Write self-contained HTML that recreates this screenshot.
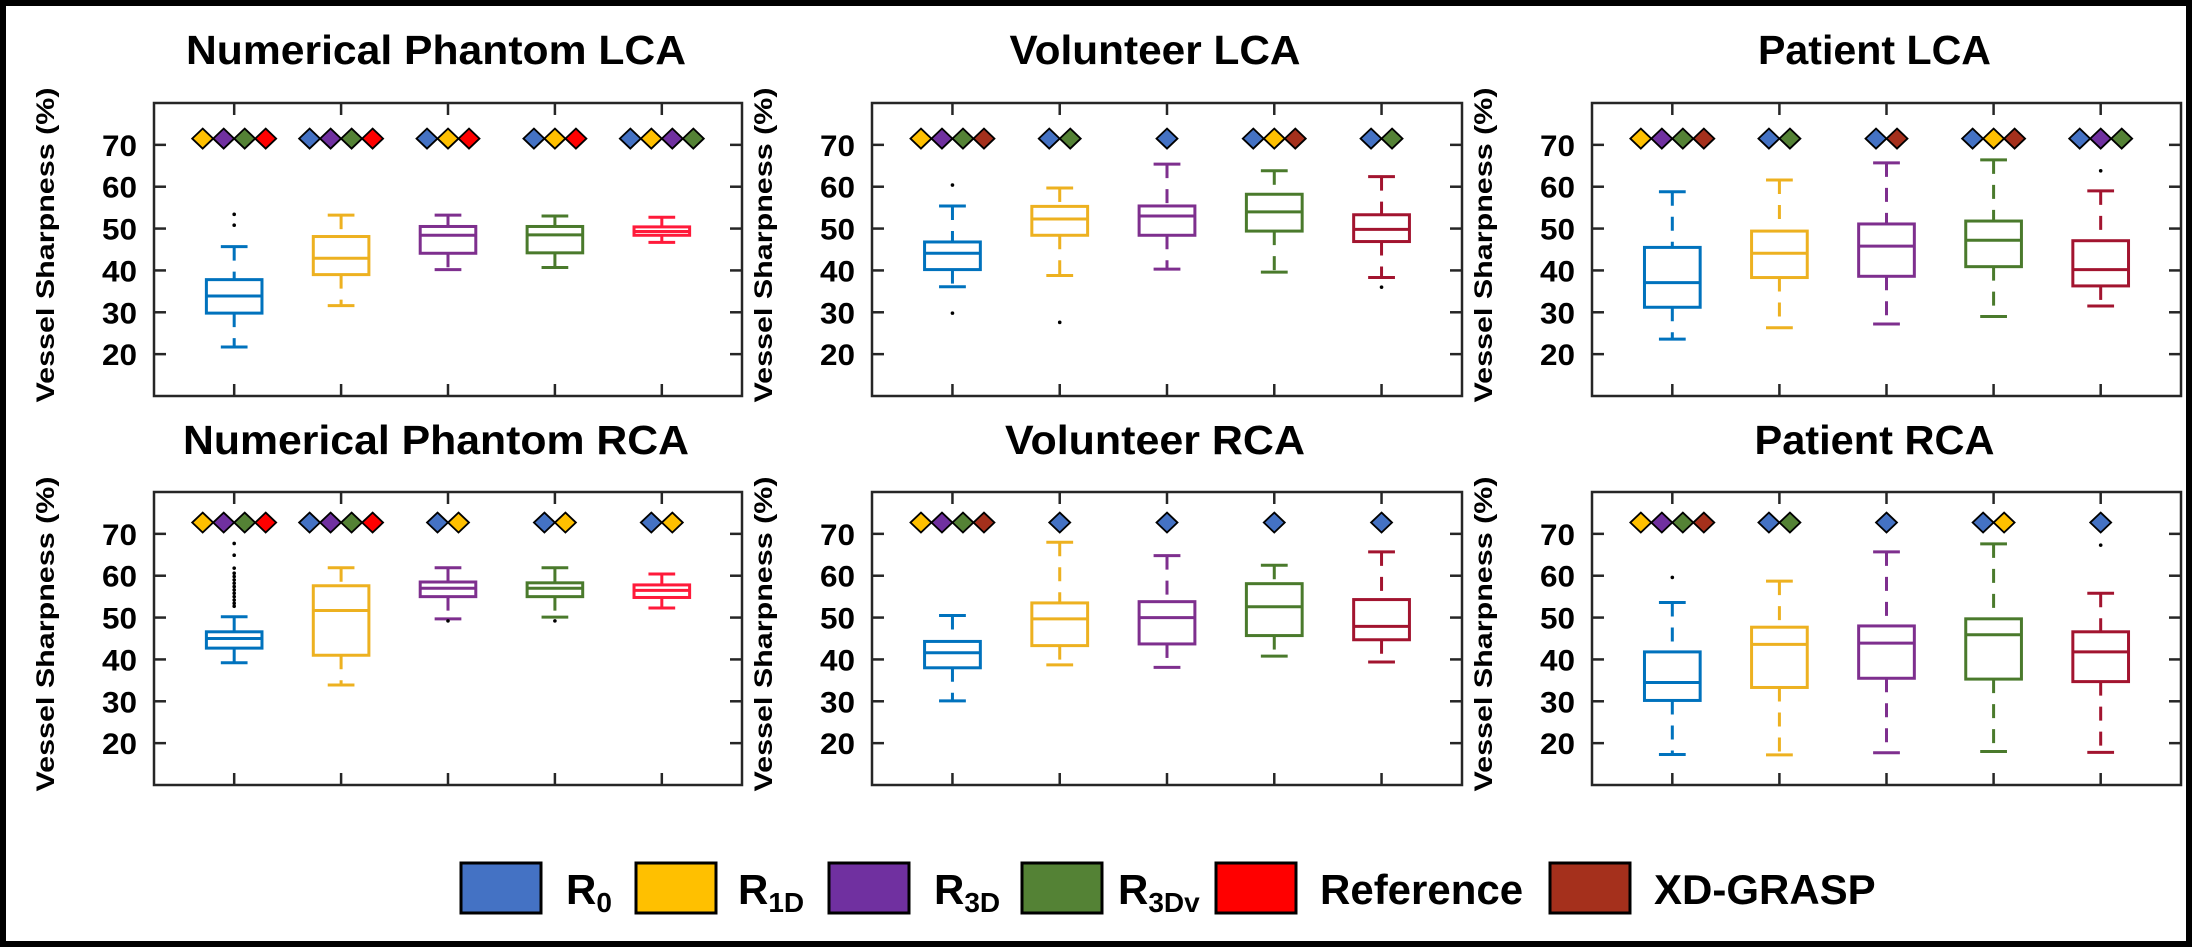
<!DOCTYPE html>
<html><head><meta charset="utf-8"><style>
html,body{margin:0;padding:0;background:#fff}
svg{display:block}
text{font-family:"Liberation Sans",sans-serif;font-weight:bold;fill:#000}
</style></head><body>
<svg id="chart" width="2192" height="947" viewBox="0 0 2192 947" xmlns="http://www.w3.org/2000/svg">
<rect x="3" y="3" width="2186" height="941" fill="#fff" stroke="#000" stroke-width="6"/>
<g id="panels"></g>
<g id="legend"></g>
</svg>
<script>
const panelTitles = ["Numerical Phantom LCA","Volunteer LCA","Patient LCA","Numerical Phantom RCA","Volunteer RCA","Patient RCA"];
const titleWidths = [500,291,233,506,300,240];
const yTicks = [20,30,40,50,60,70];
const whiskerHigh = [[45.7,53.2,53.2,53.0,52.7],[55.4,59.7,65.4,63.8,62.4],[58.8,61.6,65.7,66.4,59.0],[50.2,61.9,61.9,61.9,60.4],[50.5,68.0,64.8,62.5,65.7],[53.6,58.7,65.7,67.6,55.8]];
const q3 = [[37.8,48.1,50.5,50.5,50.4],[46.8,55.3,55.4,58.2,53.3],[45.5,49.4,51.1,51.8,47.1],[46.6,57.6,58.5,58.3,57.8],[44.3,53.5,53.8,58.1,54.3],[41.8,47.7,48.0,49.7,46.6]];
const median = [[33.9,42.9,48.4,48.5,49.3],[44.1,52.3,53.0,54.0,49.8],[37.1,44.1,45.8,47.2,40.2],[45.0,51.7,57.0,57.0,56.5],[41.6,49.7,50.0,52.6,47.9],[34.5,43.6,43.9,45.9,41.8]];
const q1 = [[29.8,39.0,44.1,44.2,48.4],[40.2,48.4,48.4,49.4,46.9],[31.2,38.3,38.6,40.9,36.3],[42.7,41.0,55.0,55.0,54.8],[38.0,43.3,43.7,45.7,44.7],[30.2,33.3,35.5,35.3,34.7]];
const whiskerLow = [[21.7,31.6,40.2,40.7,46.7],[36.1,38.8,40.3,39.6,38.3],[23.6,26.3,27.2,29.0,31.5],[39.2,33.9,49.7,50.1,52.3],[30.1,38.7,38.1,40.8,39.4],[17.3,17.2,17.7,18.0,17.8]];
const outliers = [[[53.4,50.8],[],[],[],[]],[[60.4,29.8],[27.6],[],[],[36.0]],[[],[],[],[],[63.8]],[[67.7,64.9,61.8,60.6,59.8,59.0,58.2,57.4,56.6,55.8,55.0,54.2,53.4,52.7],[],[49.2],[49.2],[]],[[],[],[],[],[]],[[59.6],[],[],[],[67.3]]];
const diamonds = [[["Y","P","G","R"],["B","P","G","R"],["B","Y","R"],["B","Y","R"],["B","Y","P","G"]],[["Y","P","G","X"],["B","G"],["B"],["B","Y","X"],["B","G"]],[["Y","P","G","X"],["B","G"],["B","X"],["B","Y","X"],["B","P","G"]],[["Y","P","G","R"],["B","P","G","R"],["B","Y"],["B","Y"],["B","Y"]],[["Y","P","G","X"],["B"],["B"],["B"],["B"]],[["Y","P","G","X"],["B","G"],["B"],["B","Y"],["B"]]];
const diamondLevel = [71.5,71.5,71.5,72.7,72.7,72.7];
const legendLabels = [["R","0"],["R","1D"],["R","3D"],["R","3Dv"],["Reference",""],["XD-GRASP",""]];

const dColors = {B:"#4472C4",Y:"#FFC000",P:"#7030A0",G:"#548235",R:"#FF0000",X:"#A5301C"};
const boxColorsPhantom = ["#0072BD","#EDB120","#7E2F8E","#4A7A2C","#FF1A3A"];
const boxColorsOther = ["#0072BD","#EDB120","#7E2F8E","#4A7A2C","#A2142F"];
const NS = "http://www.w3.org/2000/svg";
const root = document.getElementById("panels");
const colLeft = [154,872,1592], colW = [588,590,589], rowTop = [103,492], H = 293;

function mk(tag, attrs, parent){
  const e = document.createElementNS(NS, tag);
  for (const k in attrs) e.setAttribute(k, attrs[k]);
  parent.appendChild(e);
  return e;
}

for (let p = 0; p < 6; p++) {
  const c = p % 3, r = Math.floor(p / 3);
  const L = colLeft[c], T = rowTop[r], W = colW[c];
  const xS = v => L + (v - 0.25) / 5.5 * W;
  const yS = v => T + (80 - v) / 70 * H;
  const g = mk("g", {}, root);
  
  
  const t = mk("text", {x: L + W/2 - 12, y: r ? 454 : 64, "text-anchor": "middle", "font-size": 41, textLength: titleWidths[p], lengthAdjust: "spacingAndGlyphs"}, g);
  
  
  t.textContent = panelTitles[p];
  const yl = mk("text", {transform: `translate(${L-100},${T+142}) rotate(-90)`, "text-anchor": "middle", "font-size": 25, textLength: 315, lengthAdjust: "spacingAndGlyphs"}, g);
  
  
  yl.textContent = "Vessel Sharpness (%)";
  const ax = mk("rect", {x: L, y: T, width: W, height: H, fill: "none", stroke: "#262626", "stroke-width": 2.5}, g);
  
  
  yTicks.forEach(v => {
    const y = yS(v);
    mk("line", {x1: L, x2: L + 12, y1: y, y2: y, stroke: "#262626", "stroke-width": 2.5}, g);
    mk("line", {x1: L + W - 12, x2: L + W, y1: y, y2: y, stroke: "#262626", "stroke-width": 2.5}, g);
    const tl = mk("text", {x: L - 17, y: y + 11, "text-anchor": "end", "font-size": 30, textLength: 35, lengthAdjust: "spacingAndGlyphs"}, g);
    
    
    tl.textContent = v;
  });
  const cols = (c === 0) ? boxColorsPhantom : boxColorsOther;
  for (let i = 0; i < 5; i++) {
    const x = xS(i + 1);
    mk("line", {x1: x, x2: x, y1: T, y2: T + 12, stroke: "#262626", "stroke-width": 2.5}, g);
    mk("line", {x1: x, x2: x, y1: T + H - 12, y2: T + H, stroke: "#262626", "stroke-width": 2.5}, g);
    const col = cols[i];
    const bg = mk("g", {stroke: col, "stroke-width": 3, fill: "none"}, g);
    
    
    const hw = W / 5.5 * 0.26, cw = W / 5.5 * 0.125;
    mk("line", {x1: x, x2: x, y1: yS(whiskerHigh[p][i]), y2: yS(q3[p][i]), "stroke-dasharray": "14 11"}, bg);
    mk("line", {x1: x, x2: x, y1: yS(q1[p][i]), y2: yS(whiskerLow[p][i]), "stroke-dasharray": "14 11"}, bg);
    mk("line", {x1: x - cw, x2: x + cw, y1: yS(whiskerHigh[p][i]), y2: yS(whiskerHigh[p][i])}, bg);
    mk("line", {x1: x - cw, x2: x + cw, y1: yS(whiskerLow[p][i]), y2: yS(whiskerLow[p][i])}, bg);
    mk("rect", {x: x - hw, y: yS(q3[p][i]), width: 2 * hw, height: yS(q1[p][i]) - yS(q3[p][i])}, bg);
    mk("line", {x1: x - hw, x2: x + hw, y1: yS(median[p][i]), y2: yS(median[p][i])}, bg);
    outliers[p][i].forEach(v => {
      const o = mk("circle", {cx: x, cy: yS(v), r: 1.8, fill: "#000", stroke: "none"}, g);
      
      
    });
    const ds = diamonds[p][i], dw = 21, dh = 20;
    const y0 = yS(diamondLevel[p]);
    ds.forEach((k, j) => {
      const cx = x + (j - (ds.length - 1) / 2) * dw;
      const d = mk("polygon", {points: `${cx},${y0-dh/2} ${cx+dw/2},${y0} ${cx},${y0+dh/2} ${cx-dw/2},${y0}`, fill: dColors[k], stroke: "#000", "stroke-width": 1.8}, g);
      
      
    });
  }
}

const lg = document.getElementById("legend");
const legBoxX = [461,636,829,1022,1216,1550];
const legTextX = [566,738,934,1118,1320,1654];
const legColors = ["#4472C4","#FFC000","#7030A0","#548235","#FF0000","#A5301C"];
legendLabels.forEach((lab, i) => {
  const gi = mk("g", {}, lg);
  
  
  mk("rect", {x: legBoxX[i], y: 863, width: 80, height: 50, fill: legColors[i], stroke: "#000", "stroke-width": 3}, gi);
  const t = mk("text", {x: legTextX[i], y: 904, "font-size": 42}, gi);
  t.textContent = lab[0];
  if (lab[1]) {
    const s = mk("tspan", {"font-size": 28, dy: 8}, t);
    s.textContent = lab[1];
  }
});
</script>
</body></html>
